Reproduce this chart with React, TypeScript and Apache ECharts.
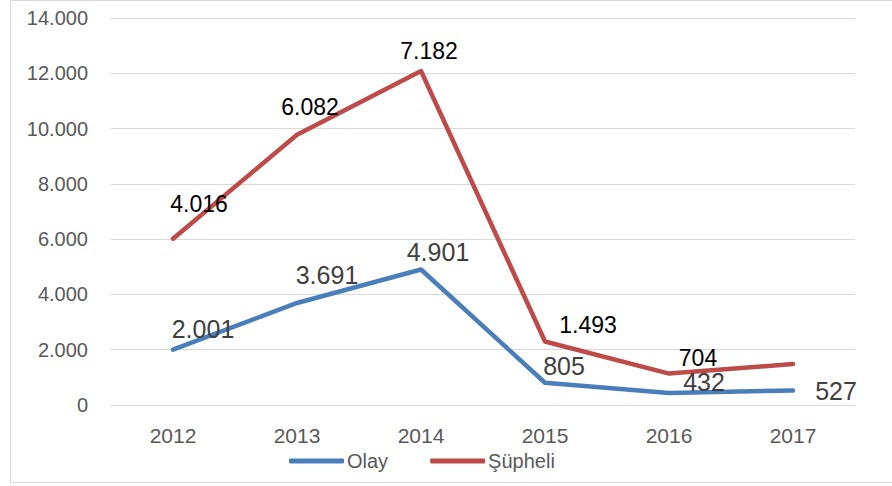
import React, { useEffect, useRef } from "react";
import * as echarts from "echarts";

const categories = ["2012", "2013", "2014", "2015", "2016", "2017"];
const olay = [2001, 3691, 4901, 805, 432, 527];
const supheli = [4016, 6082, 7182, 1493, 704, 955];
const supheliLabelShown = [true, true, true, true, true, false];
const olayOffsets = [[30, -21], [30, -28], [17, -18], [19, -17], [35, -11], [43, 1]];
const supheliOffsets = [[26, -35], [13, -28], [8, -20], [43, -16], [29, -16], [0, 0]];

const fmt = (v: number) => v.toLocaleString("de-DE");

export default function App() {
  const ref = useRef<HTMLDivElement>(null);
  useEffect(() => {
    if (!ref.current) return;
    const chart = echarts.init(ref.current, undefined, { renderer: "svg" });
    const font = "'Liberation Sans', Arial, sans-serif";
    chart.setOption({
      animation: false,
      backgroundColor: "#ffffff",
      textStyle: { fontFamily: font },
      graphic: [
        {
          type: "rect",
          shape: { x: 10.5, y: 0.5, width: 900, height: 482 },
          style: { fill: "none", stroke: "#d9d9d9", lineWidth: 1 },
          silent: true,
        },
      ],
      grid: { left: 111, right: 37, top: 18, bottom: 81 },
      legend: {
        left: 284,
        top: 446,
        itemWidth: 55,
        itemHeight: 5,
        itemGap: 42,
        icon: "roundRect",
        textStyle: { fontSize: 20, color: "#595959", fontFamily: font, padding: [0, 0, 0, -2] },
        data: [
          { name: "Olay", itemStyle: { color: "#4a7ebb" } },
          { name: "Şüpheli", itemStyle: { color: "#be4b48" } },
        ],
      },
      xAxis: {
        type: "category",
        data: categories,
        boundaryGap: true,
        axisLine: { show: true, lineStyle: { color: "#d9d9d9", width: 1 } },
        axisTick: { show: false },
        axisLabel: { fontSize: 21, color: "#595959", margin: 20, fontFamily: font },
      },
      yAxis: {
        type: "value",
        min: 0,
        max: 14000,
        interval: 2000,
        axisLine: { show: false },
        axisTick: { show: false },
        splitLine: { lineStyle: { color: "#d9d9d9", width: 1 } },
        axisLabel: {
          fontSize: 20,
          color: "#595959",
          margin: 23,
          fontFamily: font,
          formatter: (v: number) => fmt(v),
        },
      },
      series: [
        {
          name: "Olay",
          type: "line",
          stack: "total",
          symbol: "circle",
          symbolSize: 1,
          color: "#4a7ebb",
          itemStyle: { color: "#4a7ebb" },
          lineStyle: { color: "#4a7ebb", width: 4.5, cap: "round", join: "round" },
          label: {
            show: true,
            position: "inside",
            align: "center",
            verticalAlign: "middle",
            fontSize: 25,
            color: "#404040",
            fontFamily: font,
            formatter: (p: any) => fmt(p.value),
          },
          data: olay.map((v, i) => ({ value: v, label: { offset: olayOffsets[i] } })),
        },
        {
          name: "Şüpheli",
          type: "line",
          stack: "total",
          symbol: "circle",
          symbolSize: 1,
          color: "#be4b48",
          itemStyle: { color: "#be4b48" },
          lineStyle: { color: "#be4b48", width: 4.5, cap: "round", join: "round" },
          label: {
            show: true,
            position: "inside",
            align: "center",
            verticalAlign: "middle",
            fontSize: 23,
            color: "#000000",
            fontFamily: font,
            formatter: (p: any) => fmt(p.value),
          },
          data: supheli.map((v, i) => ({
            value: v,
            label: { show: supheliLabelShown[i], offset: supheliOffsets[i] },
          })),
        },
      ],
    });
    return () => chart.dispose();
  }, []);
  return (
    <div
      ref={ref}
      style={{ position: "fixed", left: 0, top: 0, width: 892, height: 486 }}
    />
  );
}
